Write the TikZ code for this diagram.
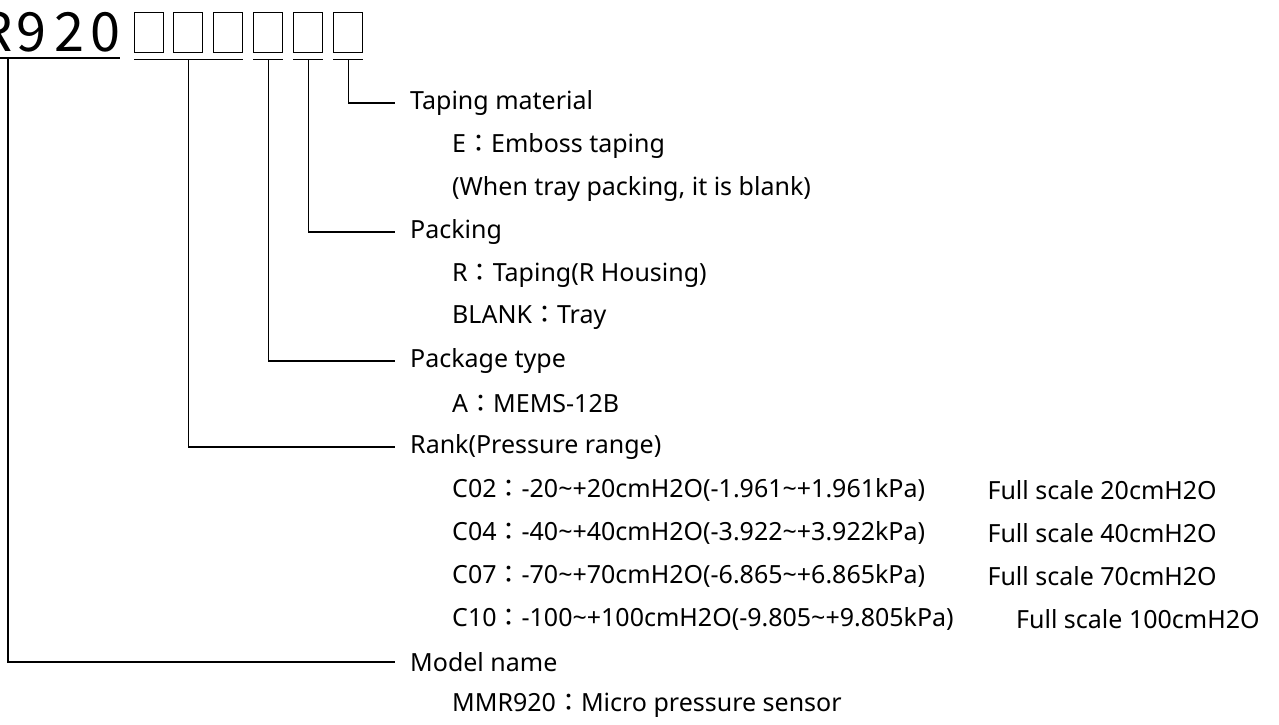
\documentclass[tikz,border=0pt]{standalone}
\usepackage{fontspec}
\setmainfont{Noto Sans}
\newfontfamily\cjkfont{Noto Sans CJK JP}
\newcommand\fwcolon{{\cjkfont ：}}
\usetikzlibrary{positioning}

\begin{document}
\begin{tikzpicture}[
  x=1pt, y=-1pt,
  font=\fontsize{25}{29}\selectfont,
  slot/.style={draw, line width=1.3pt, minimum width=29pt, minimum height=40pt, inner sep=0pt, anchor=north west},
  head/.style={anchor=west, inner xsep=15pt, inner ysep=0pt},
  item/.style={anchor=west, inner sep=0pt},
  lead/.style={line width=1.3pt}
]
\useasboundingbox (0,0) rectangle (1279,725);

\begin{scope}
  \clip (0,0) rectangle (1279,725);
  \node[anchor=base east, inner sep=0pt, font=\cjkfont\fontsize{54}{54}\selectfont] (code) at (121,52) {R\kern4pt 9\kern8pt 2\kern6pt 0};
\end{scope}

\foreach \i/\x in {1/134,2/173,3/213,4/253,5/293,6/333}
  \node[slot] (slot\i) at (\x,12) {};

\coordinate (codeleft) at (0,58);
\coordinate (coderight) at (120,58);
\coordinate (modelfoot) at (8,58);
\draw[lead] (codeleft) -- (coderight);
\draw[lead] ([yshift=-6pt]slot1.south west) -- ([yshift=-6pt]slot3.south east);
\foreach \i in {4,5,6}
  \draw[lead] ([yshift=-6pt]slot\i.south west) -- ([yshift=-6pt]slot\i.south east);

\node[head] (tape) at (395,103) {Taping material};
\node[item] (tapeE) at (452,146) {E\fwcolon Emboss taping};
\node[item] (tapenote) at (452,189) {(When tray packing, it is blank)};

\node[head] (pack) at (395,232) {Packing};
\node[item] (packR) at (452,275) {R\fwcolon Taping(R Housing)};
\node[item] (packblank) at (452,318) {BLANK\fwcolon Tray};

\node[head] (ptype) at (395,361) {Package type};
\node[item] (ptypeA) at (452,404) {A\fwcolon MEMS-12B};

\node[head] (rank) at (395,447) {Rank(Pressure range)};
\node[item] (cO2) at (452,490) {C02\fwcolon -20\textasciitilde+20cmH2O(-1.961\textasciitilde+1.961kPa)};
\node[item] (cO4) at (452,533) {C04\fwcolon -40\textasciitilde+40cmH2O(-3.922\textasciitilde+3.922kPa)};
\node[item] (cO7) at (452,576) {C07\fwcolon -70\textasciitilde+70cmH2O(-6.865\textasciitilde+6.865kPa)};
\node[item] (c10) at (452,619) {C10\fwcolon -100\textasciitilde+100cmH2O(-9.805\textasciitilde+9.805kPa)};
\node[item, right=62pt of cO2] (fsO2) {Full scale 20cmH2O};
\node[item, right=62pt of cO4] (fsO4) {Full scale 40cmH2O};
\node[item, right=62pt of cO7] (fsO7) {Full scale 70cmH2O};
\node[item, right=62pt of c10] (fs10) {Full scale 100cmH2O};

\node[head] (model) at (395,662) {Model name};
\node[item] (modelname) at (452,705) {MMR920\fwcolon Micro pressure sensor};

\draw[lead] ([yshift=-6pt]slot6.south) |- (tape.west);
\draw[lead] ([yshift=-6pt]slot5.south) |- (pack.west);
\draw[lead] ([yshift=-6pt]slot4.south) |- (ptype.west);
\draw[lead] ([yshift=-6pt]slot2.south) |- (rank.west);
\draw[lead] (modelfoot) |- (model.west);

\end{tikzpicture}
\end{document}
